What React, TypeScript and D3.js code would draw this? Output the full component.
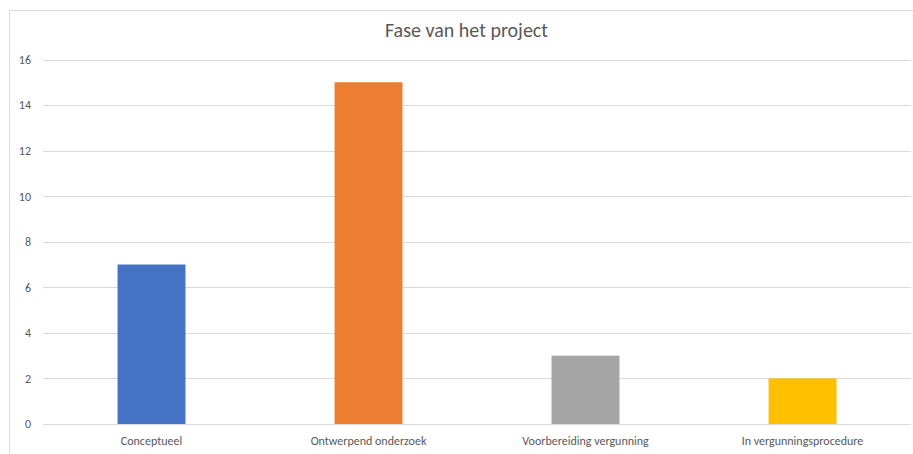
import { useEffect, useRef } from 'react';
import * as d3 from 'd3';

const categories = ['Conceptueel', 'Ontwerpend onderzoek', 'Voorbereiding vergunning', 'In vergunningsprocedure'];
const values = [7, 15, 3, 2];
const barColors = ['#4472C4', '#ED7D31', '#A5A5A5', '#FFC000'];
const yTicks = [0, 2, 4, 6, 8, 10, 12, 14, 16];
const title = 'Fase van het project';

const W = 913;
const H = 454;
const FONT = 'Carlito, Calibri, "Liberation Sans", Arial, sans-serif';

export default function App() {
  const svgRef = useRef<SVGSVGElement>(null);

  useEffect(() => {
    if (!svgRef.current) return;
    const svg = d3.select(svgRef.current);
    svg.selectAll('*').remove();

    const plot = { left: 43, right: 911, top: 59.5, bottom: 424 };

    const x = d3.scaleBand<string>().domain(categories).range([plot.left, plot.right]).paddingInner(0.687).paddingOuter(0.3435);
    const y = d3.scaleLinear().domain([0, 16]).range([plot.bottom, plot.top]);

    // chart border
    svg.append('rect')
      .attr('x', 9.5).attr('y', 10.5)
      .attr('width', 930).attr('height', 460)
      .attr('fill', '#fff').attr('stroke', '#D9D9D9').attr('stroke-width', 1);

    // title
    svg.append('text')
      .attr('x', 466.5).attr('y', 37)
      .attr('text-anchor', 'middle')
      .attr('font-family', FONT)
      .attr('font-size', 20)
      .attr('fill', '#595959')
      .text(title);

    // grid lines
    svg.append('g')
      .selectAll('line')
      .data(yTicks)
      .join('line')
      .attr('x1', plot.left).attr('x2', plot.right)
      .attr('y1', d => Math.round(y(d)) + 0.5).attr('y2', d => Math.round(y(d)) + 0.5)
      .attr('stroke', '#D9D9D9').attr('stroke-width', 1);

    // y axis labels
    const yAxis = d3.axisLeft(y).tickValues(yTicks).tickSize(0).tickPadding(0);
    const yG = svg.append('g').attr('transform', 'translate(31,0)').call(yAxis);
    yG.select('.domain').remove();
    yG.selectAll('text')
      .attr('font-family', FONT)
      .attr('font-size', 12)
      .attr('fill', '#595959');

    // bars
    svg.append('g')
      .selectAll('rect')
      .data(values)
      .join('rect')
      .attr('x', (_, i) => x(categories[i])!)
      .attr('width', x.bandwidth())
      .attr('y', d => y(d))
      .attr('height', d => y(0) - y(d))
      .attr('fill', (_, i) => barColors[i]);

    // x axis labels
    const xAxis = d3.axisBottom(x).tickSize(0).tickPadding(0);
    const xG = svg.append('g').attr('transform', `translate(0,${plot.bottom + 12})`).call(xAxis);
    xG.select('.domain').remove();
    xG.selectAll('text')
      .attr('font-family', FONT)
      .attr('font-size', 12)
      .attr('fill', '#595959');
  }, []);

  return (
    <div style={{ position: 'fixed', left: 0, top: 0, width: W, height: H, background: '#fff' }}>
      <svg ref={svgRef} width={W} height={H} style={{ display: 'block' }} />
    </div>
  );
}
